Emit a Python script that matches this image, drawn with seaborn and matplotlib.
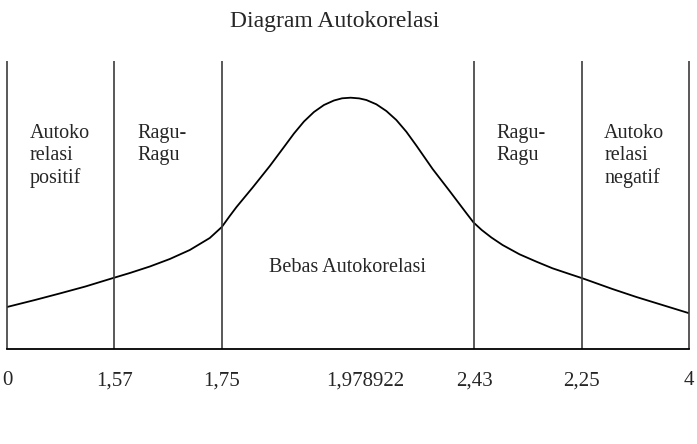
import matplotlib
matplotlib.use("Agg")
import matplotlib.pyplot as plt
import seaborn as sns
import pandas as pd

# ---- data ----
boundaries = [0.0, 1.0, 2.0, 4.35, 5.35, 6.35]
tick_pos = [0.0, 1.0, 2.0, 3.34, 4.35, 5.35, 6.35]
tick_labels = ["0", "1,57", "1,75", "1,978922", "2,43", "2,25", "4"]

curve_x = [0.0, 0.26, 0.49, 0.73, 0.958, 1.144, 1.33, 1.516, 1.702, 1.888,
           2.0, 2.074, 2.137, 2.291, 2.447, 2.579, 2.672, 2.765, 2.858,
           2.951, 3.044, 3.12, 3.2, 3.28, 3.346, 3.439, 3.532, 3.625,
           3.718, 3.811, 3.963, 4.121, 4.276, 4.344, 4.42, 4.51, 4.614,
           4.772, 4.93, 5.079, 5.237, 5.358, 5.637, 5.86, 6.102, 6.344]
curve_y = [42, 49, 55.5, 62.5, 70, 76, 82.5, 90, 99, 111,
           122, 133, 142, 162, 183, 202, 215.5, 227.5, 237,
           244, 248.5, 250.7, 251.3, 250.6, 249, 244.7, 238, 229,
           217.3, 203.5, 180, 158, 136, 126.5, 119, 111.5, 104,
           94.7, 87.3, 80.7, 75, 70.7, 60, 52, 44, 36]

region_labels = ["Autoko\nrelasi\npositif", "Ragu-\nRagu", "Ragu-\nRagu",
                 "Autoko\nrelasi\nnegatif"]
region_label_x = [0.21, 1.21, 4.56, 5.56]
center_label = "Bebas Autokorelasi"
title = "Diagram Autokorelasi"

# ---- style ----
sns.set_theme(style="white")
plt.rcParams["font.family"] = ["Liberation Serif", "DejaVu Serif"]

W, H = 697, 444
fig = plt.figure(figsize=(W / 100, H / 100), dpi=100)
ax = fig.add_axes([7 / W, (H - 349) / H, (689 - 7) / W, (349 - 61) / H])
ax.set_xlim(0, 6.35)
ax.set_ylim(0, 288)

df = pd.DataFrame({"x": curve_x, "y": curve_y})
sns.lineplot(data=df, x="x", y="y", ax=ax, color="black", linewidth=1.3,
             sort=False, estimator=None, solid_joinstyle="round")

ax.vlines(boundaries, 0, 288, colors="#3c3c3c", linewidth=1.2, clip_on=False)

for s in ["top", "right", "left"]:
    ax.spines[s].set_visible(False)
ax.spines["bottom"].set_color("black")
ax.spines["bottom"].set_linewidth(1.3)

ax.set_yticks([])
ax.set_xticks(tick_pos)
ax.set_xticklabels(tick_labels, fontsize=15)
ax.tick_params(axis="x", length=0, pad=16)
ax.set_xlabel("")
ax.set_ylabel("")

for lab, x in zip(region_labels, region_label_x):
    ax.text(x, 349 - 124, lab, fontsize=14.5, ha="left", va="top",
            linespacing=1.22)

ax.text(3.17, 349 - 268, center_label, fontsize=14.5, ha="center", va="center")

fig.text(335 / W, 1 - 22 / H, title, fontsize=17, ha="center", va="center")

fig.savefig("out.png", dpi=100, facecolor="white")
